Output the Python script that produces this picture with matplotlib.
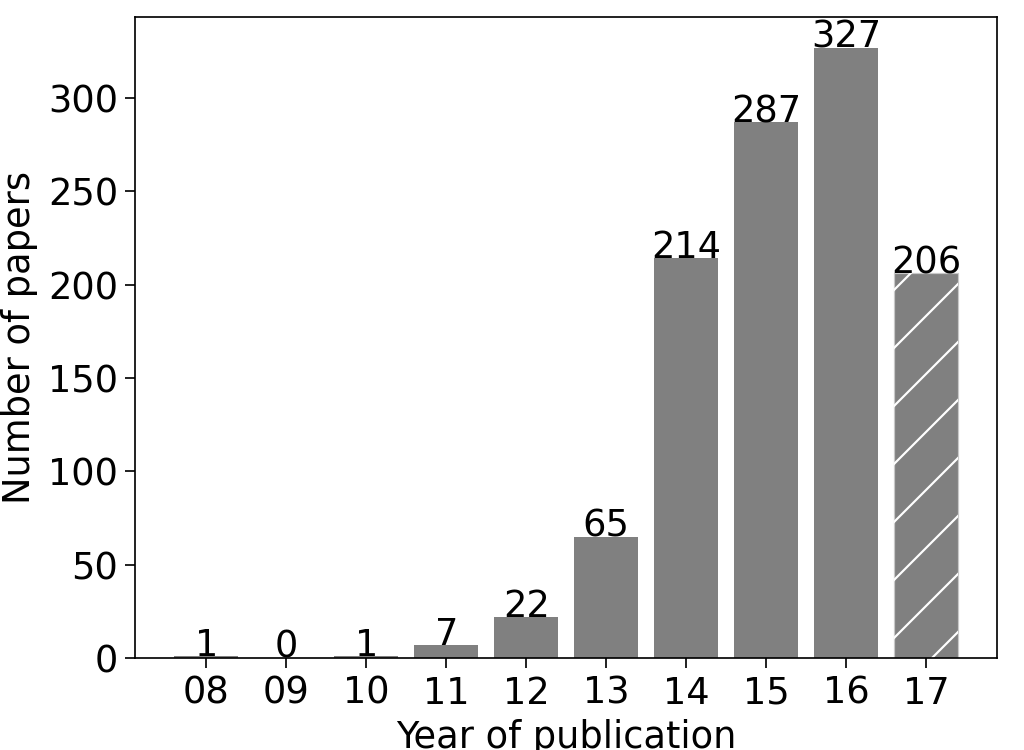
import numpy as np
import matplotlib
matplotlib.use("Agg")
import matplotlib.pyplot as plt
from matplotlib.transforms import IdentityTransform

years = ["08", "09", "10", "11", "12", "13", "14", "15", "16", "17"]
papers = [1, 0, 1, 7, 22, 65, 214, 287, 327, 206]
hatched = [False] * 9 + [True]

DPI = 348
fig = plt.figure(figsize=(1024 / DPI, 750 / DPI), dpi=DPI)
ax = fig.add_axes([0.132, 0.1227, 0.842, 0.8546])

fs = 7.6
x = list(range(len(years)))
hatch_bars = []
for xi, v, h in zip(x, papers, hatched):
    if h:
        b = ax.bar(xi, v, width=0.8, facecolor="gray", edgecolor="#c8c8c8",
                   linewidth=0.25)[0]
        hatch_bars.append(b)
    else:
        ax.bar(xi, v, width=0.8, color="gray", linewidth=0)
    ax.text(xi, v, str(v), ha="center", va="baseline", fontsize=fs)

ax.set_xticks(x)
ax.set_xticklabels(years)
ax.set_xlabel("Year of publication", fontsize=fs, labelpad=1.5)
ax.set_ylabel("Number of papers", fontsize=fs, labelpad=2)
ax.tick_params(labelsize=fs, width=0.35, length=2.0, pad=1.5)
for s in ax.spines.values():
    s.set_linewidth(0.35)

# '/' hatch drawn as white diagonal lines clipped to the bar
fig.canvas.draw()
renderer = fig.canvas.get_renderer()
spacing = DPI / 6.0
for b in hatch_bars:
    bb = b.get_window_extent(renderer)
    k0 = int(np.floor((bb.y0 - bb.x1) / spacing)) - 1
    k1 = int(np.ceil((bb.y1 - bb.x0) / spacing)) + 1
    xs = np.array([bb.x0 - 5, bb.x1 + 5])
    for k in range(k0, k1 + 1):
        c = 30 + k * spacing
        ln, = ax.plot(xs, xs + c, color="white", lw=0.45,
                      transform=IdentityTransform(), solid_capstyle="butt")
        ln.set_clip_path(b)

fig.savefig("out.png", dpi=DPI)
